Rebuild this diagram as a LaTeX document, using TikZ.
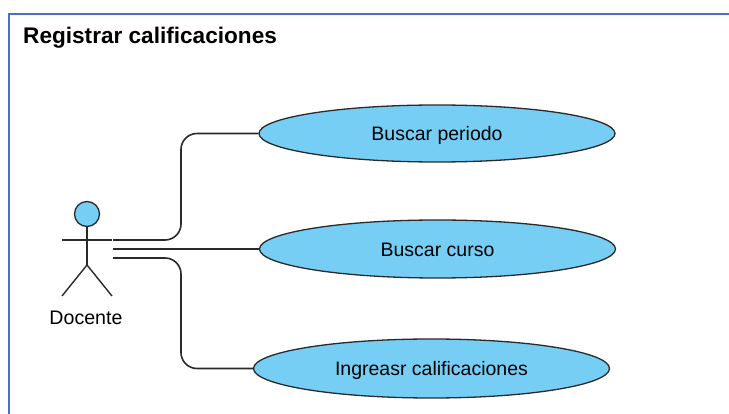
\documentclass[tikz,border=0pt]{standalone}
\usepackage{fontspec}
\setmainfont{Liberation Sans}
\usetikzlibrary{shapes.geometric}
\definecolor{fillblue}{HTML}{76CEF5}
\definecolor{frameblue}{HTML}{4472C4}
\definecolor{inkc}{HTML}{2A2A2A}
\tikzset{
  usecase/.style={ellipse,draw=inkc,fill=fillblue,line width=1.3pt,minimum width=356pt,minimum height=57pt,inner sep=0pt,text depth=0pt,font=\fontsize{19.5}{22}\selectfont},
  link/.style={draw=inkc,line width=1.6pt,rounded corners=16pt},
  stick/.style={draw=inkc,line width=1.4pt},
  caption/.style={inner sep=0pt,font=\fontsize{19.6}{22}\selectfont}
}
\begin{document}
\begin{tikzpicture}[x=1pt,y=-1pt]
\useasboundingbox (0,0) rectangle (729,414);
\fill[white] (0,0) rectangle (729,414);
\draw[frameblue,line width=1.8pt] (9,414) -- (9,14) -- (729,14);
\node[anchor=west,inner sep=0pt,font=\bfseries\fontsize{22.6}{25}\selectfont] (title) at (23,38.2) {Registrar calificaciones};
\node[usecase,text height=13.6pt] (periodo) at (437,133.5) {Buscar periodo};
\node[usecase,minimum height=58pt,text height=14.6pt] (curso) at (437.5,249) {Buscar curso};
\node[usecase,minimum height=59pt,text height=13pt] (ingresar) at (431.5,368.5) {Ingreasr calificaciones};
\node[circle,draw=inkc,fill=fillblue,line width=1.3pt,minimum size=25pt,inner sep=0pt] (head) at (87,214) {};
\coordinate (hip) at (87,265);
\coordinate (armL) at (62,240);
\coordinate (armR) at (112,240);
\coordinate (footL) at (62,296);
\coordinate (footR) at (112,296);
\draw[stick] (head.south) -- (hip);
\draw[stick] (armL) -- (armR);
\draw[stick] (footL) -- (hip) -- (footR);
\node[caption] (docente) at (86,317.5) {Docente};
\coordinate (c1) at (113,240);
\coordinate (c2) at (113,249);
\coordinate (c3) at (113,258);
\coordinate (b1) at (181,240);
\coordinate (b3) at (181,258);
\path[link] (c1) -- (b1) -- (b1 |- periodo.west) -- (periodo.west);
\path[link] (c2) -- (curso.west);
\path[link] (c3) -- (b3) -- (b3 |- ingresar.west) -- (ingresar.west);
\end{tikzpicture}
\end{document}
